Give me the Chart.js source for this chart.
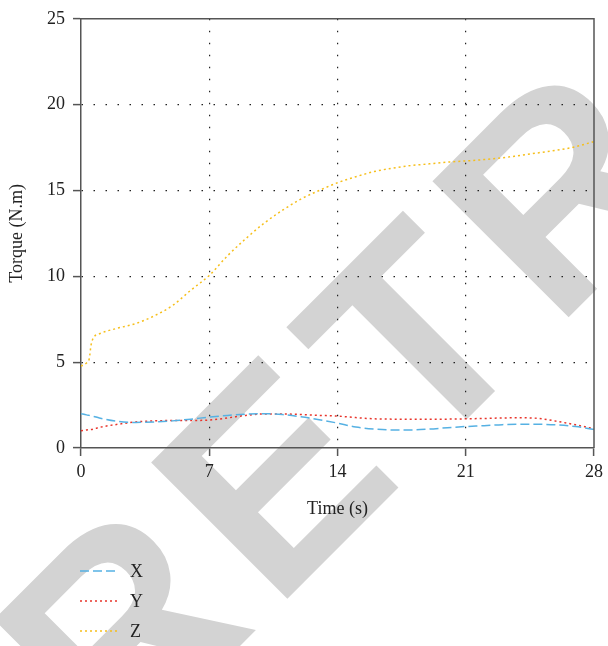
<!DOCTYPE html>
<html lang="en">
<head>
    <meta charset="UTF-8">
    <title>Torque vs Time</title>
    <script src="https://cdn.jsdelivr.net/npm/chart.js@4"></script>
    <style>
        html, body { margin: 0; padding: 0; background: #fff; }
        #wrap { width: 608px; height: 646px; }
    </style>
</head>
<body>
    <div id="wrap">
        <canvas id="chartTorque" width="608" height="646"></canvas>
    </div>
<script>
    // values
    const times   = [0, 0.3, 0.45, 0.55, 0.7, 1, 2, 3, 4, 5, 6, 7, 8, 9, 10, 11, 12, 13, 14, 15, 16, 17, 18, 19, 20, 21, 22, 23, 24, 25, 26, 27, 28];
    const torqueX = [2.0, 1.93, 1.9, 1.88, 1.84, 1.75, 1.55, 1.49, 1.52, 1.58, 1.68, 1.8, 1.9, 1.97, 2.0, 1.95, 1.82, 1.65, 1.45, 1.22, 1.1, 1.05, 1.05, 1.1, 1.18, 1.25, 1.3, 1.36, 1.38, 1.38, 1.35, 1.25, 1.08];
    const torqueY = [1.0, 1.05, 1.07, 1.08, 1.11, 1.2, 1.38, 1.52, 1.58, 1.6, 1.6, 1.63, 1.75, 1.9, 1.98, 1.98, 1.95, 1.9, 1.86, 1.77, 1.7, 1.68, 1.67, 1.67, 1.68, 1.7, 1.72, 1.75, 1.76, 1.72, 1.55, 1.35, 1.12];
    const torqueZ = [4.77, 4.95, 5.2, 6.0, 6.45, 6.65, 6.98, 7.25, 7.7, 8.3, 9.2, 10.05, 11.2, 12.2, 13.1, 13.85, 14.5, 15.0, 15.45, 15.8, 16.1, 16.3, 16.45, 16.55, 16.65, 16.72, 16.8, 16.9, 17.05, 17.2, 17.35, 17.55, 17.85];
    const seriesNames = ['X', 'Y', 'Z'];
    const xTicks = [0, 7, 14, 21, 28];
    const yTicks = [0, 5, 10, 15, 20, 25];

    const serif = '"Liberation Serif", "DejaVu Serif", serif';
    const axisColor = '#555';

    function toPoints(values) {
        return times.map((t, i) => ({ x: t, y: values[i] }));
    }

    // grey watermark behind everything
    const watermark = {
        id: 'watermark',
        beforeDraw(chart) {
            const ctx = chart.ctx;
            ctx.save();
            ctx.fillStyle = '#fff';
            ctx.fillRect(0, 0, chart.width, chart.height);
            ctx.translate(117, 769);
            ctx.rotate(-Math.PI / 4);
            ctx.font = 'bold 280px "Liberation Sans", Arial, sans-serif';
            ctx.letterSpacing = '20px';
            ctx.fillStyle = '#d3d3d3';
            ctx.textBaseline = 'alphabetic';
            ctx.fillText('RETRACTED', 0, 0);
            ctx.restore();
        }
    };

    // top + right frame, and the stacked legend under the plot
    const frameAndLegend = {
        id: 'frameAndLegend',
        afterDraw(chart) {
            const ctx = chart.ctx;
            const area = chart.chartArea;
            ctx.save();
            ctx.strokeStyle = axisColor;
            ctx.lineWidth = 1.5;
            ctx.beginPath();
            ctx.moveTo(area.left, area.top);
            ctx.lineTo(area.right, area.top);
            ctx.lineTo(area.right, area.bottom);
            ctx.stroke();

            chart.data.datasets.forEach((ds, i) => {
                const y = area.bottom + 123 + i * 30;
                ctx.beginPath();
                ctx.setLineDash(ds.borderDash);
                ctx.strokeStyle = ds.borderColor;
                ctx.lineWidth = ds.borderWidth;
                ctx.moveTo(area.left - 1, y);
                ctx.lineTo(area.left + 36, y);
                ctx.stroke();
                ctx.setLineDash([]);
                ctx.fillStyle = '#222';
                ctx.font = '18px ' + serif;
                ctx.textBaseline = 'middle';
                ctx.fillText(ds.label, area.left + 49, y + 1);
            });
            ctx.restore();
        }
    };

    function gridColor(edgeValues) {
        return (c) => edgeValues.includes(c.tick.value) ? 'rgba(0,0,0,0)' : '#222';
    }

    const torqueChart = new Chart(document.getElementById('chartTorque'), {
        type: 'line',
        data: {
            datasets: [
                {
                    label: seriesNames[0],
                    data: toPoints(torqueX),
                    borderColor: '#56b1e3',
                    borderWidth: 1.5,
                    borderDash: [9, 4]
                },
                {
                    label: seriesNames[1],
                    data: toPoints(torqueY),
                    borderColor: '#e8342b',
                    borderWidth: 1.5,
                    borderDash: [2, 3]
                },
                {
                    label: seriesNames[2],
                    data: toPoints(torqueZ),
                    borderColor: '#f6bf1c',
                    borderWidth: 1.5,
                    borderDash: [2, 3]
                }
            ]
        },
        options: {
            responsive: false,
            animation: false,
            events: [],
            elements: {
                point: { radius: 0 },
                line: { cubicInterpolationMode: 'monotone', fill: false }
            },
            layout: {
                padding: { top: 18, right: 11, bottom: 126, left: 0 }
            },
            plugins: {
                legend: { display: false },
                tooltip: { enabled: false }
            },
            scales: {
                x: {
                    type: 'linear',
                    min: xTicks[0],
                    max: xTicks[xTicks.length - 1],
                    afterBuildTicks: (scale) => { scale.ticks = xTicks.map(v => ({ value: v })); },
                    afterFit: (scale) => { scale.height = 72; },
                    border: { display: true, color: axisColor, width: 1.5, dash: [1.5, 10.5] },
                    grid: {
                        color: gridColor([xTicks[0], xTicks[xTicks.length - 1]]),
                        lineWidth: 1.2,
                        tickColor: axisColor,
                        tickBorderDash: [],
                        tickWidth: 1.5,
                        tickLength: 8
                    },
                    ticks: {
                        color: '#222',
                        padding: 5,
                        maxRotation: 0,
                        font: { family: serif, size: 18 }
                    },
                    title: {
                        display: true,
                        text: 'Time (s)',
                        color: '#222',
                        padding: { top: 0, bottom: 0 },
                        font: { family: serif, size: 18 }
                    }
                },
                y: {
                    type: 'linear',
                    min: yTicks[0],
                    max: yTicks[yTicks.length - 1],
                    afterBuildTicks: (scale) => { scale.ticks = yTicks.map(v => ({ value: v })); },
                    afterFit: (scale) => { scale.width = 81; },
                    border: { display: true, color: axisColor, width: 1.5, dash: [1.5, 10.5] },
                    grid: {
                        color: gridColor([yTicks[0], yTicks[yTicks.length - 1]]),
                        lineWidth: 1.2,
                        tickColor: axisColor,
                        tickBorderDash: [],
                        tickWidth: 1.5,
                        tickLength: 8
                    },
                    ticks: {
                        color: '#222',
                        padding: 8,
                        font: { family: serif, size: 18 }
                    },
                    title: {
                        display: true,
                        text: 'Torque (N.m)',
                        color: '#222',
                        padding: { top: 6, bottom: 0 },
                        font: { family: serif, size: 18 }
                    }
                }
            }
        },
        plugins: [watermark, frameAndLegend]
    });
</script>
</body>
</html>
